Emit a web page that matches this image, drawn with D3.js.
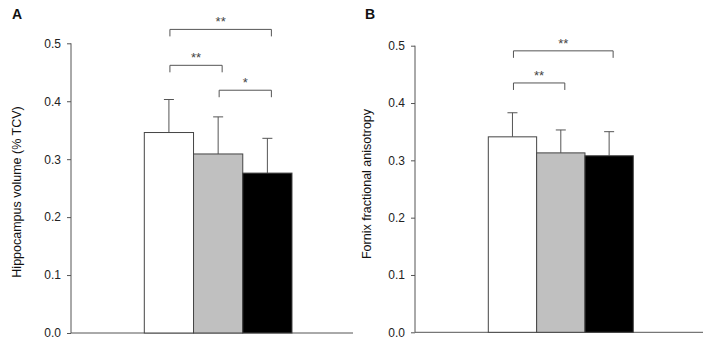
<!DOCTYPE html>
<html>
<head>
<meta charset="utf-8">
<script src="https://cdn.jsdelivr.net/npm/d3@7"></script>
<style>
    body { margin: 0; background: white; }
    text { font-family: "Liberation Sans", Arial, sans-serif; }
</style>
</head>
<body>
<div id="chart"></div>
<script>
// Data
const groups = ['g1', 'g2', 'g3']
const groupFills = ['#ffffff', '#c0c0c0', '#000000']
const yTicks = [0.0, 0.1, 0.2, 0.3, 0.4, 0.5]

const hippoMeans = [0.346, 0.309, 0.276]
const hippoErrTops = [0.403, 0.373, 0.336]
const hippoBrackets = [
    {from: 'g1', to: 'g3', level: 0.524, label: '**'},
    {from: 'g1', to: 'g2', level: 0.462, label: '**'},
    {from: 'g2', to: 'g3', level: 0.419, label: '*'}
]

const fornixMeans = [0.341, 0.313, 0.308]
const fornixErrTops = [0.383, 0.353, 0.350]
const fornixBrackets = [
    {from: 'g1', to: 'g3', level: 0.491, label: '**'},
    {from: 'g1', to: 'g2', level: 0.435, label: '**'}
]

const width = 709, height = 341

function getTranslateString(x, y) {
    return 'translate(' + x + ', ' + y + ')'
}

const svg = d3.select('#chart').append('svg').attr('width', width).attr('height', height)

function drawPanel(opts) {
    const g = svg.append('g')
    const yScale = d3.scaleLinear().domain([0, 0.5]).range([opts.y0, opts.y5])
    const xScale = d3.scaleBand().domain(groups).range([opts.barStart, opts.barEnd]).padding(0)

    // panel letter
    g.append('text').attr('x', opts.letterX).attr('y', 19).text(opts.letter)
        .attr('font-size', 14).attr('font-weight', 'bold').attr('fill', '#111')

    // y axis: short outward ticks, labels, line
    const yAxis = d3.axisLeft(yScale).tickValues(yTicks).tickFormat(d3.format('.1f'))
        .tickSize(4).tickPadding(6)
    const ax = g.append('g').attr('transform', getTranslateString(opts.axisX, 0)).call(yAxis)
    ax.select('.domain').remove()
    ax.selectAll('line').style('stroke', '#555')
    ax.selectAll('text').attr('font-size', 12).attr('fill', '#222')
        .style('font-family', '"Liberation Sans", Arial, sans-serif')
    g.append('line').attr('x1', opts.axisX).attr('x2', opts.axisX)
        .attr('y1', yScale(0.5)).attr('y2', yScale(0)).style('stroke', '#555')
    g.append('line').attr('x1', opts.axisX).attr('x2', opts.axisEnd)
        .attr('y1', yScale(0)).attr('y2', yScale(0)).style('stroke', '#555')

    // y title
    g.append('text').attr('transform', getTranslateString(opts.titleX, opts.titleY) + ' rotate(-90)')
        .attr('text-anchor', 'middle').attr('font-size', 12.5).attr('fill', '#111')
        .text(opts.title)

    // error bars (upper only)
    const capHalf = 5
    groups.forEach((grp, i) => {
        const cx = xScale(grp) + xScale.bandwidth() / 2
        g.append('line').attr('x1', cx).attr('x2', cx)
            .attr('y1', yScale(opts.means[i])).attr('y2', yScale(opts.errTops[i])).style('stroke', '#555')
        g.append('line').attr('x1', cx - capHalf).attr('x2', cx + capHalf)
            .attr('y1', yScale(opts.errTops[i])).attr('y2', yScale(opts.errTops[i])).style('stroke', '#555')
    })

    // bars
    g.selectAll('.bar').data(groups).enter().append('rect')
        .attr('x', d => xScale(d)).attr('width', xScale.bandwidth())
        .attr('y', (d, i) => yScale(opts.means[i]))
        .attr('height', (d, i) => yScale(0) - yScale(opts.means[i]))
        .style('fill', (d, i) => groupFills[i]).style('stroke', '#444')

    // significance brackets
    for (let b of opts.brackets) {
        const x1 = xScale(b.from) + xScale.bandwidth() / 2 + 1
        const x2 = xScale(b.to) + xScale.bandwidth() / 2 + 4
        const y = yScale(b.level)
        g.append('path').attr('d', 'M' + x1 + ',' + (y + 7) + 'V' + y + 'H' + x2 + 'V' + (y + 7))
            .style('fill', 'none').style('stroke', '#555')
        g.append('text').attr('x', (x1 + x2) / 2).attr('y', y - 3)
            .attr('text-anchor', 'middle').attr('font-size', 13).attr('fill', '#444')
            .text(b.label)
    }
}

drawPanel({
    letter: 'A', letterX: 12, axisX: 71, axisEnd: 353, y0: 333, y5: 43.3,
    barStart: 144.3, barEnd: 292, titleX: 21, titleY: 192,
    title: 'Hippocampus volume (% TCV)',
    means: hippoMeans, errTops: hippoErrTops, brackets: hippoBrackets
})

drawPanel({
    letter: 'B', letterX: 365, axisX: 415, axisEnd: 703, y0: 332.3, y5: 45.7,
    barStart: 488.3, barEnd: 633.3, titleX: 371, titleY: 184,
    title: 'Fornix fractional anisotropy',
    means: fornixMeans, errTops: fornixErrTops, brackets: fornixBrackets
})
</script>
</body>
</html>
